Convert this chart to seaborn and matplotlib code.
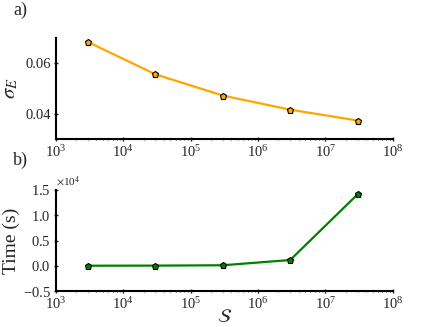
import numpy as np
import pandas as pd
import matplotlib
matplotlib.use("Agg")
import matplotlib.pyplot as plt
import seaborn as sns

# data
sample_sizes = [3e3, 3e4, 3e5, 3e6, 3e7]
sigma_e = [0.0684, 0.0556, 0.0472, 0.0416, 0.0373]
run_time = [10, 30, 100, 1140, 14140]

df = pd.DataFrame({'S': sample_sizes, 'sigma': sigma_e, 'time': run_time})

sns.set_style('white')
plt.rcParams['font.family'] = ['Liberation Serif', 'DejaVu Serif']
plt.rcParams['mathtext.fontset'] = 'stix'

fig = plt.figure(figsize=(4.36, 3.27), dpi=100)
ax1 = fig.add_axes([0.128, 0.575, 0.773, 0.309])
ax2 = fig.add_axes([0.128, 0.110, 0.773, 0.309])

sns.lineplot(data=df, x='S', y='sigma', ax=ax1, color='#FFA500', lw=1.6,
             marker='p', markersize=5, markeredgecolor='black',
             markeredgewidth=0.8)
sns.lineplot(data=df, x='S', y='time', ax=ax2, color='green', lw=1.6,
             marker='p', markersize=5, markeredgecolor='black',
             markeredgewidth=0.8)

for ax in (ax1, ax2):
    ax.set_xscale('log')
    ax.set_xlim(1e3, 1e8)
    ax.set_xticks([1e3, 1e4, 1e5, 1e6, 1e7, 1e8])
    sns.despine(ax=ax)
    for s in ('left', 'bottom'):
        ax.spines[s].set_linewidth(1.5)
        ax.spines[s].set_color('black')
    ax.tick_params(which='major', direction='inout', length=3, width=1,
                   labelsize=10.5, pad=2, bottom=True, left=True)
    ax.tick_params(which='minor', direction='inout', length=2, width=0.6,
                   bottom=True)
    ax.set_xlabel('')

ax1.set_ylim(0.03, 0.07)
ax1.set_yticks([0.04, 0.06])
ax1.set_ylabel(r'$\sigma_E$', fontsize=15, labelpad=4)

ax2.set_ylim(-0.5e4, 1.5e4)
ax2.set_yticks([-0.5e4, 0, 0.5e4, 1.0e4, 1.5e4])
ax2.ticklabel_format(axis='y', style='sci', scilimits=(0, 0), useMathText=True)
ax2.yaxis.get_offset_text().set_fontsize(8)
ax2.set_ylabel('Time (s)', fontsize=14, labelpad=2)
ax2.set_xlabel(r'$\mathcal{S}$', fontsize=14, labelpad=-2)

fig.text(0.03, 0.955, 'a)', fontsize=13)
fig.text(0.03, 0.495, 'b)', fontsize=13)

fig.savefig('out.png', dpi=100)
